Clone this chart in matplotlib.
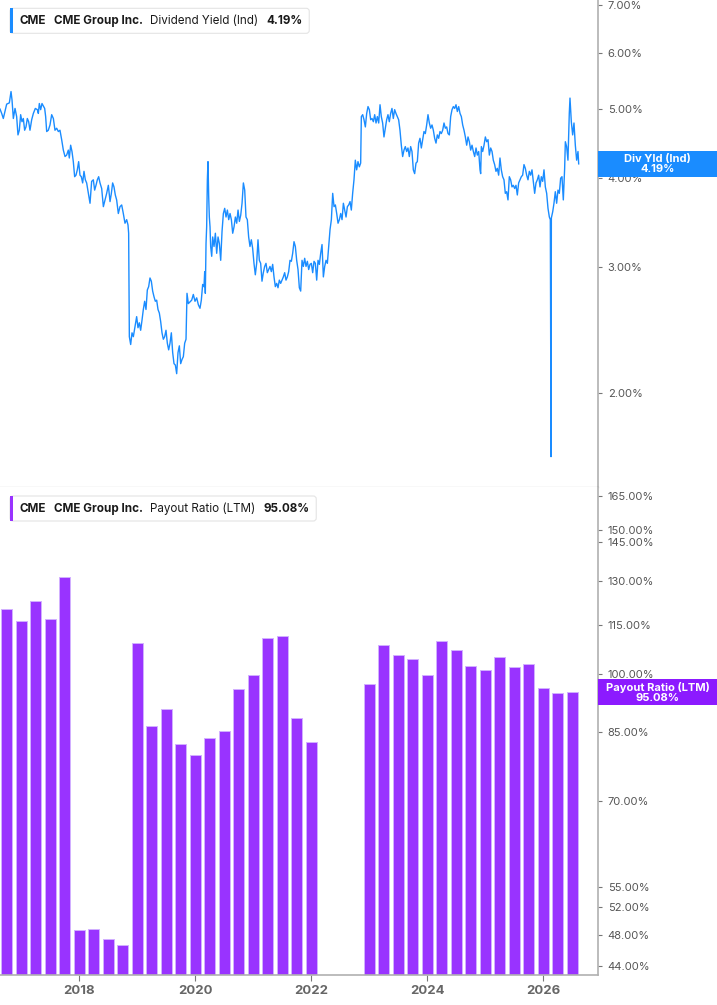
import matplotlib
matplotlib.use("Agg")
import matplotlib.pyplot as plt
import matplotlib.ticker as mticker
import matplotlib.transforms as mtransforms
from matplotlib.patches import FancyBboxPatch, Rectangle
import numpy as np

plt.rcParams["font.family"] = ["Inter", "DejaVu Sans"]

# ---- dividend yield (Ind), % ----
yld_t = [
    2016.633, 2016.662, 2016.690, 2016.719, 2016.748, 2016.794, 2016.823, 2016.840, 2016.863, 2016.892,
    2016.920, 2016.943, 2016.966, 2016.989, 2017.012, 2017.035, 2017.058, 2017.081, 2017.104, 2017.127,
    2017.150, 2017.179, 2017.208, 2017.242, 2017.277, 2017.294, 2017.311, 2017.334, 2017.357, 2017.380,
    2017.403, 2017.420, 2017.438, 2017.466, 2017.495, 2017.524, 2017.553, 2017.581, 2017.610, 2017.639,
    2017.667, 2017.696, 2017.725, 2017.754, 2017.782, 2017.811, 2017.828, 2017.851, 2017.874, 2017.897,
    2017.920, 2017.943, 2017.966, 2017.989, 2018.012, 2018.035, 2018.058, 2018.081, 2018.104, 2018.127,
    2018.156, 2018.185, 2018.213, 2018.242, 2018.265, 2018.288, 2018.311, 2018.334, 2018.357, 2018.386,
    2018.415, 2018.443, 2018.472, 2018.501, 2018.530, 2018.553, 2018.575, 2018.598, 2018.621, 2018.644,
    2018.673, 2018.702, 2018.731, 2018.759, 2018.788, 2018.817, 2018.840, 2018.851, 2018.863, 2018.886,
    2018.909, 2018.932, 2018.960, 2018.989, 2019.012, 2019.035, 2019.058, 2019.081, 2019.104, 2019.127,
    2019.150, 2019.173, 2019.196, 2019.219, 2019.242, 2019.265, 2019.288, 2019.311, 2019.334, 2019.357,
    2019.380, 2019.403, 2019.426, 2019.449, 2019.472, 2019.495, 2019.518, 2019.541, 2019.564, 2019.587,
    2019.610, 2019.633, 2019.656, 2019.679, 2019.702, 2019.725, 2019.748, 2019.771, 2019.794, 2019.817,
    2019.840, 2019.857, 2019.880,
    2019.938, 2019.966, 2019.995, 2020.024, 2020.053, 2020.081, 2020.104, 2020.127, 2020.150, 2020.162,
    2020.173, 2020.185, 2020.196, 2020.208, 2020.219, 2020.231, 2020.242, 2020.254, 2020.265, 2020.283,
    2020.300, 2020.323, 2020.346, 2020.369, 2020.392, 2020.415, 2020.438, 2020.461, 2020.484, 2020.507,
    2020.530, 2020.553, 2020.576, 2020.599, 2020.622, 2020.645, 2020.668, 2020.691, 2020.714, 2020.737,
    2020.760, 2020.783, 2020.806, 2020.829, 2020.852, 2020.874, 2020.897, 2020.920, 2020.943, 2020.966,
    2020.989, 2021.012, 2021.035, 2021.058, 2021.081, 2021.104, 2021.127, 2021.150, 2021.173, 2021.196,
    2021.219, 2021.242, 2021.265, 2021.288, 2021.311, 2021.334, 2021.357, 2021.380, 2021.403, 2021.426,
    2021.449, 2021.472, 2021.495, 2021.518, 2021.541, 2021.564, 2021.587, 2021.610, 2021.633, 2021.656,
    2021.679, 2021.702, 2021.725, 2021.748, 2021.771, 2021.794, 2021.817, 2021.840, 2021.863, 2021.886,
    2021.909, 2021.932, 2021.955, 2021.978, 2022.001, 2022.024, 2022.047, 2022.070, 2022.093, 2022.116,
    2022.139, 2022.162, 2022.185, 2022.208, 2022.231, 2022.254, 2022.277, 2022.300, 2022.323, 2022.346,
    2022.369, 2022.392, 2022.415, 2022.438, 2022.461, 2022.484, 2022.507, 2022.530, 2022.553, 2022.576,
    2022.599, 2022.622, 2022.645, 2022.668, 2022.690, 2022.713, 2022.736, 2022.759, 2022.782, 2022.805,
    2022.828, 2022.851, 2022.863, 2022.886, 2022.909, 2022.932, 2022.955, 2022.978, 2023.001, 2023.024,
    2023.047, 2023.070, 2023.093, 2023.116, 2023.139, 2023.162,
    2023.185, 2023.207, 2023.230, 2023.253, 2023.276, 2023.299, 2023.322, 2023.345, 2023.368, 2023.391,
    2023.414, 2023.437, 2023.460, 2023.483, 2023.506, 2023.529, 2023.552, 2023.575, 2023.598, 2023.621,
    2023.644, 2023.667, 2023.690, 2023.713, 2023.736, 2023.759, 2023.782, 2023.805, 2023.828, 2023.851,
    2023.874, 2023.897, 2023.920, 2023.943, 2023.966, 2023.989, 2024.012, 2024.035, 2024.058, 2024.081,
    2024.104, 2024.127, 2024.150, 2024.173, 2024.196, 2024.219, 2024.242, 2024.265, 2024.288, 2024.311,
    2024.334, 2024.357, 2024.380, 2024.403, 2024.426, 2024.449, 2024.472, 2024.495, 2024.518, 2024.541,
    2024.564, 2024.587, 2024.610, 2024.633, 2024.656, 2024.679, 2024.702, 2024.725, 2024.748, 2024.771,
    2024.794, 2024.817, 2024.840, 2024.863, 2024.886, 2024.909, 2024.920, 2024.932, 2024.955, 2024.978,
    2025.001, 2025.024, 2025.047, 2025.070, 2025.093, 2025.116, 2025.138, 2025.161, 2025.184, 2025.207,
    2025.230, 2025.253, 2025.276, 2025.299, 2025.322, 2025.345, 2025.368, 2025.391, 2025.414, 2025.437,
    2025.460, 2025.483, 2025.506, 2025.529, 2025.552, 2025.575, 2025.598, 2025.621, 2025.644, 2025.667,
    2025.690, 2025.713, 2025.736, 2025.759, 2025.782, 2025.805, 2025.828, 2025.851, 2025.874, 2025.897,
    2025.920, 2025.943, 2025.966, 2025.989, 2026.012, 2026.035, 2026.058, 2026.081, 2026.104, 2026.121,
    2026.133, 2026.139, 2026.162, 2026.184, 2026.207, 2026.230, 2026.253, 2026.276, 2026.299, 2026.322,
    2026.345, 2026.368, 2026.380, 2026.402, 2026.425, 2026.448, 2026.460, 2026.483, 2026.506, 2026.529,
    2026.552, 2026.575, 2026.598, 2026.610,
]
yld_v = [
    5.00, 4.93, 4.85, 4.96, 5.08, 5.10, 5.29, 5.15, 4.85, 5.01,
    4.88, 4.60, 4.67, 4.91, 4.80, 4.85, 4.67, 4.72, 4.85, 4.80,
    4.67, 4.83, 4.93, 5.01, 4.99, 4.93, 5.09, 4.99, 5.09, 5.05,
    5.01, 4.88, 4.65, 4.67, 4.75, 4.91, 4.85, 4.67, 4.70, 4.65,
    4.67, 4.53, 4.38, 4.29, 4.31, 4.38, 4.27, 4.45, 4.36, 4.22,
    4.02, 4.04, 4.11, 4.22, 4.04, 4.02, 3.94, 4.09, 3.98, 3.94,
    3.81, 3.69, 3.96, 3.98, 3.85, 3.91, 3.98, 4.02, 3.94, 3.87,
    3.65, 3.73, 3.81, 3.91, 3.71, 3.81, 3.94, 3.89, 3.79, 3.73,
    3.57, 3.65, 3.67, 3.57, 3.46, 3.50, 3.44, 3.35, 2.40, 2.34,
    2.43, 2.40, 2.48, 2.56, 2.47, 2.51, 2.45, 2.53, 2.62, 2.69,
    2.62, 2.79, 2.82, 2.90, 2.87, 2.78, 2.73, 2.69, 2.70, 2.62,
    2.59, 2.52, 2.43, 2.38, 2.40, 2.45, 2.35, 2.30, 2.35, 2.43,
    2.28, 2.20, 2.19, 2.13, 2.28, 2.33, 2.20, 2.23, 2.25, 2.35,
    2.38, 2.76, 2.67,
    2.70, 2.75, 2.69, 2.72, 2.66, 2.63, 2.70, 2.84, 2.82, 2.96,
    2.76, 3.24, 3.42, 3.98, 4.22, 3.77, 3.53, 3.42, 3.21, 3.11,
    3.31, 3.21, 3.35, 3.14, 3.31, 3.24, 3.07, 3.37, 3.57, 3.63,
    3.53, 3.61, 3.50, 3.57, 3.50, 3.35, 3.42, 3.53, 3.46, 3.61,
    3.48, 3.55, 3.69, 3.94, 3.85, 3.53, 3.50, 3.31, 3.21, 3.28,
    3.19, 3.04, 2.93, 3.04, 3.28, 3.07, 3.04, 2.87, 2.95, 3.01,
    3.04, 2.95, 2.98, 3.01, 2.96, 3.03, 2.91, 2.82, 2.85, 2.81,
    2.88, 2.85, 2.88, 2.91, 2.95, 2.88, 2.91, 2.96, 3.07, 3.06,
    3.14, 3.26, 3.21, 3.07, 2.98, 2.81, 2.78, 3.07, 3.01, 3.09,
    3.01, 3.06, 2.98, 3.03, 3.04, 2.95, 3.06, 3.04, 2.88, 3.07,
    3.03, 3.14, 3.23, 2.91, 3.01, 3.07, 3.04, 3.21, 3.39, 3.50,
    3.81, 3.65, 3.67, 3.57, 3.46, 3.50, 3.57, 3.50, 3.69, 3.61,
    3.53, 3.65, 3.67, 3.71, 3.61, 3.81, 3.98, 4.24, 4.11, 4.22,
    4.15, 4.20, 4.88, 4.91, 4.83, 4.72, 4.93, 5.04, 4.99, 4.83,
    4.85, 4.80, 4.91, 4.78, 4.88, 4.78,
    5.07, 4.88, 4.78, 4.57, 4.70, 4.83, 4.91, 4.80, 4.93, 5.01,
    4.85, 4.99, 4.93, 4.88, 4.83, 4.67, 4.45, 4.29, 4.38, 4.43,
    4.36, 4.41, 4.29, 4.43, 4.36, 4.11, 4.06, 4.20, 4.22, 4.48,
    4.55, 4.41, 4.53, 4.65, 4.62, 4.75, 4.91, 4.78, 4.70, 4.75,
    4.67, 4.55, 4.48, 4.60, 4.55, 4.65, 4.62, 4.67, 4.78, 4.70,
    4.72, 4.62, 4.60, 4.88, 4.99, 5.04, 5.01, 5.07, 4.96, 5.04,
    4.93, 4.88, 4.75, 4.67, 4.57, 4.45, 4.57, 4.50, 4.38, 4.45,
    4.36, 4.29, 4.41, 4.31, 4.36, 4.11, 4.06, 4.43, 4.36, 4.45,
    4.57, 4.50, 4.53, 4.31, 4.41, 4.36, 4.24, 4.18, 4.09, 4.13,
    4.04, 4.27, 4.11, 4.02, 3.98, 3.81, 3.83, 3.73, 4.02, 3.98,
    3.89, 3.91, 3.87, 3.91, 3.79, 3.94, 3.98, 4.02, 4.04, 4.18,
    4.13, 4.04, 3.98, 4.09, 4.04, 4.11, 3.96, 3.81, 3.94, 3.98,
    4.04, 3.89, 4.02, 3.96, 4.11, 3.89, 3.81, 3.63, 3.53, 3.50,
    1.63, 3.52, 3.59, 3.69, 3.83, 3.69, 3.85, 3.81, 4.00, 4.02,
    3.73, 4.13, 4.50, 4.43, 4.24, 4.93, 5.18, 4.80, 4.60, 4.78,
    4.45, 4.24, 4.36, 4.19,
]

# ---- payout ratio (LTM), %, quarterly ----
pay_t = [
    2016.75, 2017.00, 2017.25, 2017.50, 2017.75, 2018.00, 2018.25, 2018.50, 2018.75, 2019.00,
    2019.25, 2019.50, 2019.75, 2020.00, 2020.25, 2020.50, 2020.75, 2021.00, 2021.25, 2021.50,
    2021.75, 2022.00,
    2023.00, 2023.25, 2023.50, 2023.75, 2024.00, 2024.25, 2024.50, 2024.75, 2025.00, 2025.25,
    2025.50, 2025.75, 2026.00, 2026.25, 2026.50,
]
pay_v = [
    120.2, 116.1, 122.8, 117.0, 131.4, 48.7, 48.8, 47.5, 46.7, 109.1,
    86.5, 90.6, 82.2, 79.7, 83.5, 85.3, 96.0, 99.7, 110.8, 111.3,
    88.5, 82.6,
    97.4, 108.7, 105.7, 104.4, 99.8, 109.8, 107.0, 102.4, 101.2, 105.0,
    102.0, 103.0, 96.2, 95.0, 95.08,
]

yld_ticks = [2, 3, 4, 5, 6, 7]
pay_ticks = [44, 48, 52, 55, 70, 85, 100, 115, 130, 145, 150, 165]
year_ticks = [2018, 2020, 2022, 2024, 2026]

BLUE = "#1a8cff"
PURPLE = "#9933ff"
W, H = 717, 1005

fig = plt.figure(figsize=(W / 100, H / 100), dpi=100)
ax1 = fig.add_axes([0, 1 - 487 / H, 598 / W, 487 / H])
ax2 = fig.add_axes([0, 1 - 975 / H, 598 / W, 488 / H])

xlim = (2016.633, 2026.943)

ax1.set_yscale("log")
ax1.plot(yld_t, yld_v, color=BLUE, lw=1.0)
ax1.set_ylim(1.478, 7.107)
ax1.set_xlim(*xlim)

ax2.set_yscale("log", nonpositive="clip")
ax2.bar(pay_t, pay_v, width=0.195, color=PURPLE,
        edgecolor="#d2b0ff", linewidth=0.7)
ax2.set_ylim(42.9, 169.4)
ax2.set_xlim(*xlim)

for ax, ticks in ((ax1, yld_ticks), (ax2, pay_ticks)):
    ax.yaxis.tick_right()
    ax.yaxis.set_major_locator(mticker.FixedLocator(ticks))
    ax.yaxis.set_minor_locator(mticker.NullLocator())
    ax.yaxis.set_major_formatter(mticker.FuncFormatter(lambda v, p: f"{v:.2f}%"))
    ax.tick_params(axis="y", which="major", direction="out", length=3, width=0.8,
                   color="#777777", labelcolor="#555555", labelsize=8, pad=4)
    ax.spines["left"].set_visible(False)
    ax.spines["top"].set_visible(False)
    ax.spines["right"].set_color("#b0b0b0")
    ax.spines["right"].set_linewidth(1.2)
    ax.set_facecolor("white")

ax1.spines["bottom"].set_color("#dddddd")
ax1.spines["bottom"].set_linewidth(1.0)
ax1.set_xticks([])
ax2.spines["bottom"].set_color("#b0b0b0")
ax2.spines["bottom"].set_linewidth(1.2)
ax2.set_xticks(year_ticks)
ax2.set_xticklabels([str(y) for y in year_ticks])
ax2.tick_params(axis="x", direction="out", length=4, width=0.8, color="#777777",
                labelcolor="#666666", labelsize=9.5, pad=3)
for lab in ax2.get_xticklabels():
    lab.set_fontweight("bold")

# ---- legend boxes (top-left of each panel) ----
renderer = fig.canvas.get_renderer()
ident = mtransforms.IdentityTransform()


def legend_box(y_px, color, parts):
    x = 20
    yd = H - y_px
    for s, w in parts:
        t = fig.text(x, yd, s, transform=ident, fontsize=8.4, fontweight=w,
                     color="#1a1a1a", va="center", ha="left")
        x += t.get_window_extent(renderer).width + 7.5
    x_end = x - 7.5 + 7
    box = FancyBboxPatch((10, yd - 12.5), x_end - 10, 25, transform=ident,
                         boxstyle="round,pad=0,rounding_size=3",
                         facecolor="white", edgecolor="#e4e4e4", lw=0.8, zorder=0)
    fig.patches.append(box)
    fig.patches.append(Rectangle((10, yd - 12.5), 3, 25, transform=ident,
                                 facecolor=color, edgecolor="none", zorder=1))


legend_box(20.8, BLUE, [("CME", "bold"), ("CME Group Inc.", "bold"),
                        ("Dividend Yield (Ind)", "normal"), ("4.19%", "bold")])
legend_box(508.5, PURPLE, [("CME", "bold"), ("CME Group Inc.", "bold"),
                           ("Payout Ratio (LTM)", "normal"), ("95.08%", "bold")])


# ---- last-value tags on the right axis ----
def value_tag(ax, value, color, lines):
    _, yc = ax.transData.transform((xlim[0], value))
    x0 = ax.transAxes.transform((1, 0))[0]
    fig.patches.append(Rectangle((x0, yc - 12.8), W - x0, 25.6, transform=ident,
                                 facecolor=color, edgecolor="none", zorder=5))
    fig.text((x0 + W) / 2, yc, "\n".join(lines), transform=ident, fontsize=8,
             fontweight="bold", color="white", ha="center", va="center",
             linespacing=1.0, zorder=6)


value_tag(ax1, yld_v[-1], BLUE, ["Div Yld (Ind)", "4.19%"])
value_tag(ax2, pay_v[-1], "#8c1aff", ["Payout Ratio (LTM)", "95.08%"])

fig.savefig("out.png", dpi=100, facecolor="white")
